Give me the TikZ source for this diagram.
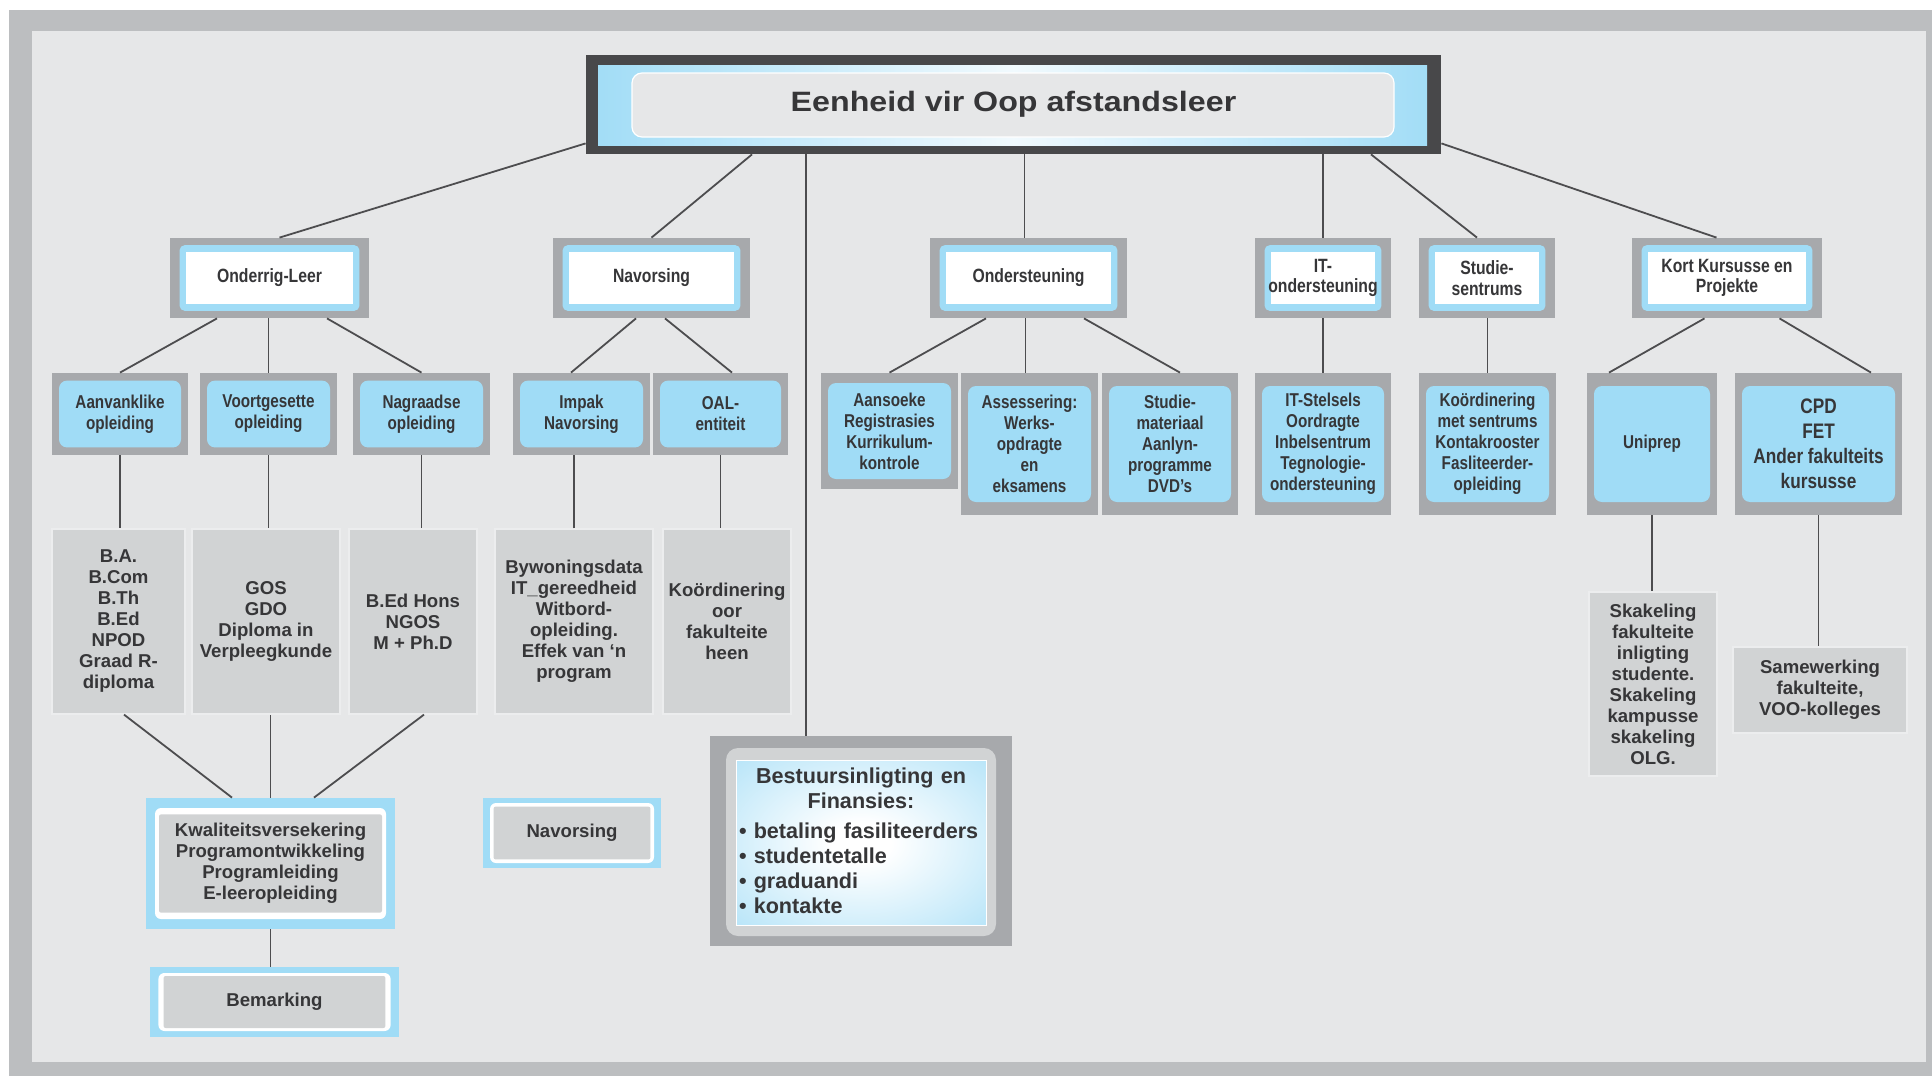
\documentclass[tikz,border=0pt]{standalone}
\usepackage{fontspec}
\setmainfont{Liberation Sans}
\newfontfamily\narrowsans[FakeStretch=0.82]{Liberation Sans}
\newfontfamily\widesans[FakeStretch=1.15]{Liberation Sans}
\usepackage{xcolor}
\usepackage{tikz}
\definecolor{frameGrey}{HTML}{BCBEC0}
\definecolor{paperGrey}{HTML}{E6E7E8}
\definecolor{boxGrey}{HTML}{A7A9AC}
\definecolor{leafGrey}{HTML}{D1D3D4}
\definecolor{leafEdge}{HTML}{ECEDEE}
\definecolor{skyBlue}{HTML}{A0DCF6}
\definecolor{titleDark}{HTML}{48484A}
\definecolor{inkGrey}{HTML}{363638}
\definecolor{lineGrey}{HTML}{4D4D4F}
\pgfdeclareradialshading{softglow}{\pgfpoint{0bp}{0bp}}{color(0bp)=(white); color(6bp)=(white); color(46bp)=(skyBlue); color(50bp)=(skyBlue)}

\tikzset{
  boxbase/.style={inner sep=0pt, align=center, text=inkGrey},
  unitbox/.style={boxbase, fill=titleDark, minimum width=427.5pt, minimum height=49.5pt,
    font=\widesans\bfseries\fontsize{14}{16}\selectfont,
    path picture={
      \shade[left color=skyBlue, right color=skyBlue, middle color=skyBlue!15]
        ([shift={(6pt,4.5pt)}]path picture bounding box.south west) rectangle
        ([shift={(-7pt,-5pt)}]path picture bounding box.north east);
      \filldraw[fill=paperGrey, draw=white, line width=0.6pt, rounded corners=5pt]
        ([shift={(23pt,8.5pt)}]path picture bounding box.south west) rectangle
        ([shift={(-23.5pt,-9pt)}]path picture bounding box.north east);
    }},
  headbox/.style={boxbase, fill=boxGrey, minimum height=40pt,
    font=\narrowsans\bfseries\fontsize{9.6}{10.3}\selectfont,
    path picture={
      \fill[skyBlue, rounded corners=2.5pt]
        ([shift={(4.8pt,3.6pt)}]path picture bounding box.south west) rectangle
        ([shift={(-4.8pt,-3.6pt)}]path picture bounding box.north east);
      \fill[white]
        ([shift={(7.8pt,7pt)}]path picture bounding box.south west) rectangle
        ([shift={(-7.8pt,-7pt)}]path picture bounding box.north east);
    }},
  subbox/.style={boxbase, fill=boxGrey,
    font=\narrowsans\bfseries\fontsize{9.3}{10.5}\selectfont,
    path picture={
      \fill[skyBlue, rounded corners=4pt]
        ([shift={(3.5pt,#1)}]path picture bounding box.south west) rectangle
        ([shift={(-3.5pt,-#1)}]path picture bounding box.north east);
    }},
  subbox/.default=3.8pt,
  leafbox/.style={boxbase, fill=leafGrey, draw=leafEdge, line width=0.6pt,
    font=\bfseries\fontsize{9.3}{10.5}\selectfont},
  lowbox/.style n args={4}{boxbase, fill=skyBlue,
    font=\bfseries\fontsize{9.3}{10.5}\selectfont,
    path picture={
      \fill[white, rounded corners=3pt]
        ([shift={(#1,#2)}]path picture bounding box.south west) rectangle
        ([shift={(-#1,-#2)}]path picture bounding box.north east);
      \fill[leafGrey, rounded corners=1pt]
        ([shift={(#3,#4)}]path picture bounding box.south west) rectangle
        ([shift={(-#3,-#4)}]path picture bounding box.north east);
    }},
  bestuurbox/.style={boxbase, fill=boxGrey, align=left,
    font=\bfseries\fontsize{10.8}{12.5}\selectfont,
    path picture={
      \fill[leafGrey, rounded corners=6pt]
        ([shift={(8pt,5pt)}]path picture bounding box.south west) rectangle
        ([shift={(-8pt,-6pt)}]path picture bounding box.north east);
      \shadedraw[shading=softglow, draw=white, line width=0.5pt]
        ([shift={(13pt,10.5pt)}]path picture bounding box.south west) rectangle
        ([shift={(-13pt,-12pt)}]path picture bounding box.north east);
    }},
  link/.style={draw=lineGrey, line width=0.9pt},
}

\begin{document}
\begin{tikzpicture}[x=0.5pt, y=-0.5pt]
  \fill[white] (0,0) rectangle (1932,1076);
  \fill[frameGrey] (9,10) rectangle (1932,1076);
  \fill[paperGrey] (32,31) rectangle (1926,1062);
  \useasboundingbox (0,0) rectangle (1932,1076);

  \node[unitbox] (unit) at (1013.5,104.5) {Eenheid vir Oop afstandsleer};

  % first row
  \node[headbox, minimum width=99.5pt] (onderrig) at (269.5,278) {Onderrig-Leer};
  \node[headbox, minimum width=98.5pt] (navors) at (651.5,278) {Navorsing};
  \node[headbox, minimum width=98.5pt] (ondersteun) at (1028.5,278) {Ondersteuning};
  \node[headbox, minimum width=68pt] (itsup) at (1323,278) {IT-\\ondersteuning};
  \node[headbox, minimum width=68pt] (studie) at (1487,278) {Studie-\\sentrums};
  \node[headbox, minimum width=95pt] (kort) at (1727,278) {Kort Kursusse en\\Projekte};

  % second row
  \node[subbox, minimum width=68pt, minimum height=41pt] (aanv) at (120,414) {Aanvanklike\\opleiding};
  \node[subbox, minimum width=68.5pt, minimum height=41pt] (voort) at (268.5,414) {Voortgesette\\opleiding};
  \node[subbox, minimum width=68.5pt, minimum height=41pt] (nagr) at (421.5,414) {Nagraadse\\opleiding};
  \node[subbox, minimum width=68.5pt, minimum height=41pt] (impak) at (581.5,414) {Impak\\Navorsing};
  \node[subbox, minimum width=67.5pt, minimum height=41pt] (oal) at (720.5,414) {OAL-\\entiteit};
  \node[subbox=5pt, minimum width=68.5pt, minimum height=58pt] (aansoeke) at (889.5,431)
    {Aansoeke\\Registrasies\\Kurrikulum-\\kontrole};
  \node[subbox=6.5pt, minimum width=68.5pt, minimum height=71pt] (assess) at (1029.5,444)
    {Assessering:\\Werks-\\opdragte\\en\\eksamens};
  \node[subbox=6.5pt, minimum width=68pt, minimum height=71pt] (studiemat) at (1170,444)
    {Studie-\\materiaal\\Aanlyn-\\programme\\DVD’s};
  \node[subbox=6.5pt, minimum width=68pt, minimum height=71pt] (itstel) at (1323,444)
    {IT-Stelsels\\Oordragte\\Inbelsentrum\\Tegnologie-\\ondersteuning};
  \node[subbox=6.5pt, minimum width=68.5pt, minimum height=71pt] (koordsen) at (1487.5,444)
    {Koördinering\\met sentrums\\Kontakrooster\\Fasliteerder-\\opleiding};
  \node[subbox=6.5pt, minimum width=65pt, minimum height=71pt] (uniprep) at (1652,444) {Uniprep};
  \node[subbox=6.5pt, minimum width=83.5pt, minimum height=71pt,
    font=\narrowsans\bfseries\fontsize{10.5}{12.5}\selectfont] (cpd) at (1818.5,444)
    {CPD\\FET\\Ander fakulteits\\kursusse};

  % third row
  \node[leafbox, minimum width=66.5pt, minimum height=92.5pt] (ba) at (118.5,621.5)
    {B.A.\\B.Com\\B.Th\\B.Ed\\NPOD\\Graad R-\\diploma};
  \node[leafbox, minimum width=74pt, minimum height=92.5pt] (gos) at (266,621.5)
    {GOS\\GDO\\Diploma in\\Verpleegkunde};
  \node[leafbox, minimum width=64pt, minimum height=92.5pt] (bed) at (413,621.5)
    {B.Ed Hons\\NGOS\\M + Ph.D};
  \node[leafbox, minimum width=79pt, minimum height=92.5pt] (byw) at (574,621.5)
    {Bywoningsdata\\IT\_gereedheid\\Witbord-\\opleiding.\\Effek van ‘n\\program};
  \node[leafbox, minimum width=64pt, minimum height=92.5pt] (koordoor) at (727,621.5)
    {Koördinering\\oor\\fakulteite\\heen};
  \node[leafbox, minimum width=64pt, minimum height=92pt] (skakel) at (1653,684)
    {Skakeling\\fakulteite\\inligting\\studente.\\Skakeling\\kampusse\\skakeling\\OLG.};
  \node[leafbox, minimum width=87pt, minimum height=43pt] (samew) at (1820,690)
    {Samewerking\\fakulteite,\\VOO-kolleges};

  % bottom
  \node[lowbox={4.5pt}{5pt}{6.5pt}{8.2pt}, minimum width=124.5pt, minimum height=65.5pt] (kwal) at (270.5,863.5)
    {Kwaliteitsversekering\\Programontwikkeling\\Programleiding\\E-leeropleiding};
  \node[lowbox={4.2pt}{3pt}{6.8pt}{4.5pt}, minimum width=124.5pt, minimum height=35pt] (bemark) at (274.5,1002) {Bemarking};
  \node[lowbox={3.5pt}{2.5pt}{5.3pt}{4.3pt}, minimum width=89pt, minimum height=35pt] (lownav) at (572,833) {Navorsing};
  \node[bestuurbox, minimum width=151pt, minimum height=105pt, text width=122pt] (bestuur) at (861,841)
    {{\centering Bestuursinligting en\\Finansies:\par}\vspace{2.5pt}%
     \textbullet\ betaling fasiliteerders\\
     \textbullet\ studentetalle\\
     \textbullet\ graduandi\\
     \textbullet\ kontakte};

  % connectors
  \draw[link] ([yshift=5.5pt]unit.south west) -- ([xshift=5pt]onderrig.north);
  \draw[link] ([xshift=-130.75pt]unit.south) -- (navors.north);
  \draw[link] ([xshift=-27.5pt]bestuur.north) -- ([xshift=-27.5pt]bestuur.north |- unit.south);
  \draw[link] ([xshift=-2pt]ondersteun.north) -- ([xshift=-2pt]ondersteun.north |- unit.south);
  \draw[link] (itsup.north) -- (itsup.north |- unit.south);
  \draw[link] ([xshift=178.75pt]unit.south) -- ([xshift=-5pt]studie.north);
  \draw[link] ([yshift=5.5pt]unit.south east) -- ([xshift=-5.25pt]kort.north);

  \draw[link] ([xshift=-26.25pt]onderrig.south) -- (aanv.north);
  \draw[link] (voort.north) -- (voort.north |- onderrig.south);
  \draw[link] ([xshift=28.75pt]onderrig.south) -- (nagr.north);
  \draw[link] ([xshift=-7.75pt]navors.south) -- ([xshift=-5.25pt]impak.north);
  \draw[link] ([xshift=6.75pt]navors.south) -- ([xshift=5.75pt]oal.north);
  \draw[link] ([xshift=-21.25pt]ondersteun.south) -- (aansoeke.north);
  \draw[link] ([xshift=-2pt]assess.north) -- ([xshift=-2pt]assess.north |- ondersteun.south);
  \draw[link] ([xshift=27.75pt]ondersteun.south) -- ([xshift=5pt]studiemat.north);
  \draw[link] (itstel.north) -- (itstel.north |- itsup.south);
  \draw[link] (koordsen.north) -- (koordsen.north |- studie.south);
  \draw[link] ([xshift=-11.25pt]kort.south) -- ([xshift=-21.5pt]uniprep.north);
  \draw[link] ([xshift=26.25pt]kort.south) -- ([xshift=26.25pt]cpd.north);

  \draw[link] (aanv.south) -- (aanv.south |- ba.north);
  \draw[link] (voort.south) -- (voort.south |- gos.north);
  \draw[link] (nagr.south) -- (nagr.south |- bed.north);
  \draw[link] (byw.north) -- (byw.north |- impak.south);
  \draw[link] (oal.south) -- (oal.south |- koordoor.north);
  \draw[link] (uniprep.south) -- (uniprep.south |- skakel.north);
  \draw[link] (cpd.south) -- (cpd.south |- samew.north);

  \draw[link] ([xshift=2.75pt]ba.south) -- ([xshift=-19.25pt]kwal.north);
  \draw[link] (kwal.north) -- (kwal.north |- gos.south);
  \draw[link] ([xshift=5.5pt]bed.south) -- ([xshift=21.75pt]kwal.north);
  \draw[link] (kwal.south) -- (kwal.south |- bemark.north);
\end{tikzpicture}
\end{document}
